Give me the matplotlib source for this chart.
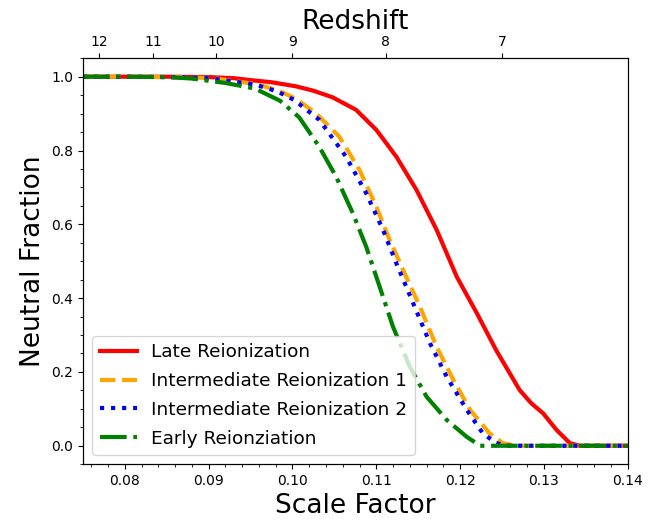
import numpy as np
import matplotlib
matplotlib.use("Agg")
import matplotlib.pyplot as plt
from matplotlib.ticker import AutoMinorLocator

# Late Reionization
a_late = [0.075, 0.080, 0.085, 0.090, 0.0930, 0.0949, 0.0975, 0.1004, 0.1025, 0.1048, 0.1076,
          0.1100, 0.1124, 0.1148, 0.1172, 0.1196, 0.1220, 0.1243, 0.1271, 0.1285, 0.1299,
          0.1315, 0.1331, 0.1343, 0.1400]
f_late = [1.0, 1.0, 1.0, 0.999, 0.996, 0.991, 0.985, 0.974, 0.962, 0.944, 0.910,
          0.856, 0.783, 0.693, 0.585, 0.458, 0.359, 0.259, 0.151, 0.115, 0.088,
          0.043, 0.007, 0.0, 0.0]

# Intermediate Reionization 1
a_int1 = [0.075, 0.080, 0.085, 0.0880, 0.0905, 0.0957, 0.0984, 0.1004, 0.1028, 0.1056, 0.1080,
          0.1100, 0.1116, 0.1132, 0.1152, 0.1172, 0.1192, 0.1212, 0.1235, 0.1251, 0.1267, 0.1400]
f_int1 = [1.0, 1.0, 0.999, 0.998, 0.996, 0.980, 0.962, 0.940, 0.901, 0.837, 0.747,
          0.648, 0.557, 0.476, 0.377, 0.268, 0.178, 0.097, 0.034, 0.007, 0.0, 0.0]

# Intermediate Reionization 2
a_int2 = [0.075, 0.080, 0.085, 0.0880, 0.0905, 0.0955, 0.0982, 0.1002, 0.1032, 0.1064, 0.1088,
          0.1108, 0.1124, 0.1144, 0.1164, 0.1184, 0.1208, 0.1227, 0.1243, 0.1259, 0.1400]
f_int2 = [1.0, 1.0, 0.999, 0.998, 0.995, 0.979, 0.960, 0.937, 0.883, 0.783, 0.684,
          0.585, 0.494, 0.386, 0.278, 0.187, 0.097, 0.034, 0.007, 0.0, 0.0]

# Early Reionziation
a_early = [0.075, 0.080, 0.0850, 0.0880, 0.0920, 0.0955, 0.0985, 0.1008, 0.1032, 0.1052, 0.1072,
           0.1088, 0.1104, 0.1120, 0.1140, 0.1160, 0.1184, 0.1208, 0.1224, 0.1400]
f_early = [1.0, 1.0, 0.999, 0.995, 0.983, 0.968, 0.935, 0.890, 0.810, 0.729, 0.630,
           0.539, 0.431, 0.322, 0.214, 0.133, 0.070, 0.024, 0.0, 0.0]

redshifts = [12, 11, 10, 9, 8, 7]
redshift_labels = ["12", "11", "10", "9", "8", "7"]

fig = plt.figure(figsize=(6.67, 5.22), dpi=100)
ax = fig.add_axes([0.1244, 0.1107, 0.8167, 0.7777])

ax.plot(a_late, f_late, color="red", lw=3, ls="-", label="Late Reionization")
ax.plot(a_int1, f_int1, color="orange", lw=3, ls="--", label="Intermediate Reionization 1")
ax.plot(a_int2, f_int2, color="blue", lw=3, ls=":", label="Intermediate Reionization 2")
ax.plot(a_early, f_early, color="green", lw=3, ls="-.", label="Early Reionziation")

ax.set_xlim(0.075, 0.14)
ax.set_ylim(-0.05, 1.05)
ax.xaxis.set_minor_locator(AutoMinorLocator())
ax.yaxis.set_minor_locator(AutoMinorLocator())
ax.set_xlabel("Scale Factor", fontsize=19)
ax.set_ylabel("Neutral Fraction", fontsize=19)
ax.legend(loc="lower left", fontsize=13.3, labelspacing=0.58)

ax2 = ax.twiny()
ax2.set_xlim(ax.get_xlim())
ax2.set_xticks([1.0 / (1 + z) for z in redshifts])
ax2.set_xticklabels(redshift_labels)
ax2.set_xlabel("Redshift", fontsize=19)

fig.savefig("out.png", dpi=100)
